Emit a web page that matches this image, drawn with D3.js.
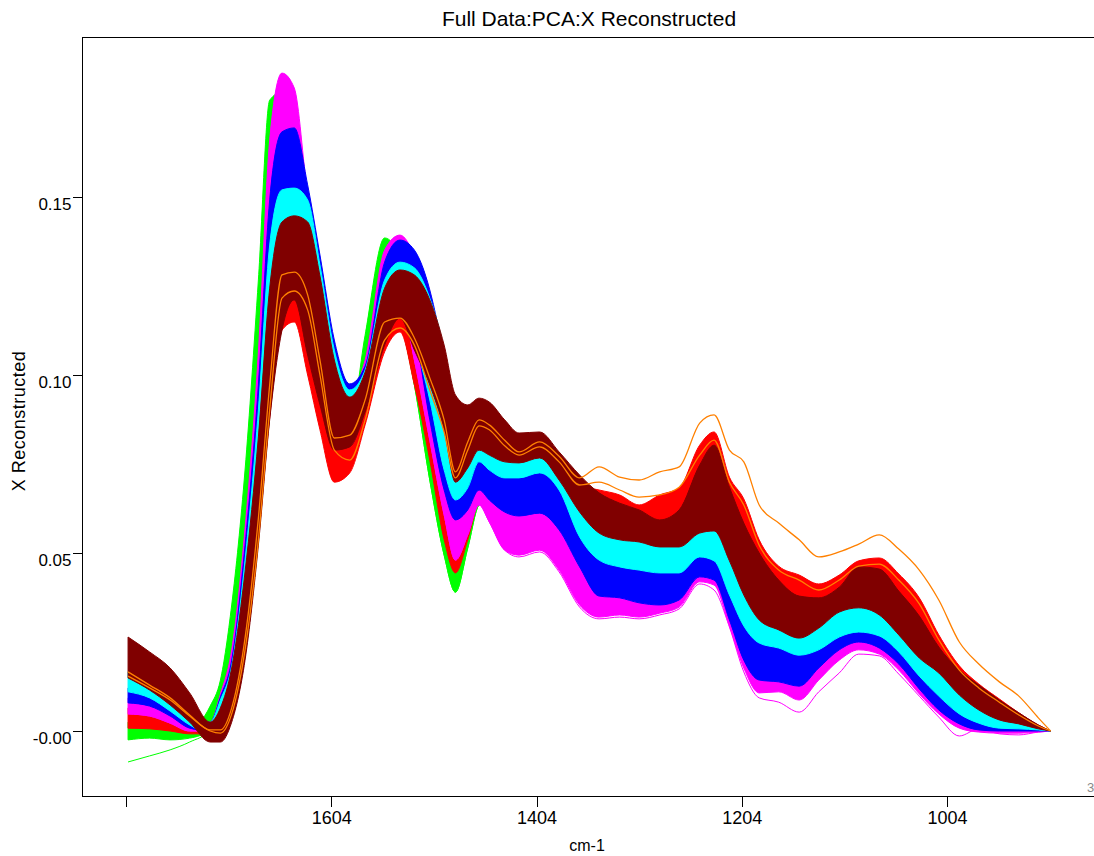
<!DOCTYPE html>
<html>
<head>
<meta charset="utf-8">
<script src="https://cdn.jsdelivr.net/npm/d3@7"></script>
<style>
  html, body { margin: 0; padding: 0; background: #fff; }
  svg { display: block; }
  text { font-family: "Liberation Sans", Arial, sans-serif; fill: #000; }
</style>
</head>
<body>
<svg id="chart" width="1094" height="856"></svg>
<script>
// Wavenumber grid (cm-1), high to low
const wavenumbers = [1802,1781,1761,1742,1722,1712,1701,1688,1675,1664,1652,1640,1627,1615,1601,1586,1571,1552,1537,1523,1508,1494,1483,1471,1460,1450,1435,1421,1401,1382,1362,1343,1323,1304,1284,1265,1245,1231,1216,1202,1187,1168,1148,1129,1109,1090,1070,1051,1031,1012,992,973,953,934,915,903];

// Upper / lower envelopes of each sample class
const maroonHi = [0.0264,0.0222,0.0177,0.0107,0.0025,0.0065,0.0177,0.0447,0.0826,0.1244,0.1430,0.1447,0.1430,0.1278,0.1042,0.0938,0.1008,0.1244,0.1295,0.1281,0.1211,0.1084,0.0944,0.0916,0.0935,0.0924,0.0874,0.0837,0.0840,0.0784,0.0719,0.0669,0.0640,0.0621,0.0593,0.0621,0.0747,0.0803,0.0685,0.0584,0.0500,0.0424,0.0379,0.0374,0.0404,0.0461,0.0455,0.0393,0.0323,0.0236,0.0171,0.0129,0.0087,0.0051,0.0017,0];
const maroonLo = [0.0149,0.0115,0.0073,0.0025,-0.0031,-0.0031,0.0025,0.0199,0.0522,0.0874,0.1126,0.1211,0.1056,0.0916,0.0789,0.0798,0.0896,0.1084,0.1160,0.1070,0.0972,0.0846,0.0699,0.0739,0.0789,0.0775,0.0756,0.0753,0.0767,0.0705,0.0615,0.0556,0.0537,0.0531,0.0517,0.0517,0.0556,0.0562,0.0478,0.0382,0.0312,0.0284,0.0261,0.0289,0.0334,0.0346,0.0326,0.0270,0.0205,0.0163,0.0101,0.0059,0.0031,0.0020,0.0006,0];
const cyanHi = [0.0166,0.0138,0.0098,0.0053,0.0025,0.0087,0.0183,0.0480,0.0902,0.1365,0.1520,0.1525,0.1492,0.1309,0.1070,0.0958,0.1014,0.1267,0.1317,0.1301,0.1216,0.1070,0.0874,0.0846,0.0817,0.0803,0.0784,0.0775,0.0784,0.0728,0.0649,0.0579,0.0565,0.0551,0.0537,0.0537,0.0593,0.0607,0.0537,0.0452,0.0368,0.0340,0.0312,0.0346,0.0382,0.0410,0.0396,0.0340,0.0270,0.0199,0.0129,0.0093,0.0053,0.0031,0.0011,0];
const cyanLo = [0.0110,0.0093,0.0056,0.0017,-0.0006,0.0025,0.0087,0.0362,0.0756,0.1126,0.1295,0.1317,0.1211,0.1042,0.0874,0.0817,0.0916,0.1154,0.1211,0.1098,0.0930,0.0733,0.0649,0.0683,0.0756,0.0733,0.0711,0.0711,0.0725,0.0677,0.0545,0.0480,0.0461,0.0452,0.0444,0.0444,0.0489,0.0478,0.0382,0.0295,0.0247,0.0233,0.0213,0.0228,0.0264,0.0278,0.0267,0.0222,0.0154,0.0098,0.0048,0.0022,0.0008,0.0006,0.0003,0];
const blueHi = [0.0121,0.0104,0.0070,0.0037,0.0025,0.0096,0.0199,0.0522,0.0972,0.1492,0.1683,0.1694,0.1534,0.1337,0.1098,0.0975,0.1025,0.1317,0.1379,0.1351,0.1239,0.1042,0.0817,0.0789,0.0775,0.0761,0.0733,0.0728,0.0739,0.0688,0.0579,0.0494,0.0480,0.0475,0.0466,0.0466,0.0508,0.0508,0.0424,0.0340,0.0270,0.0256,0.0242,0.0270,0.0326,0.0354,0.0340,0.0284,0.0213,0.0143,0.0087,0.0053,0.0025,0.0014,0.0006,0];
const blueLo = [0.0079,0.0070,0.0042,0.0008,0,0.0037,0.0110,0.0390,0.0812,0.1239,0.1464,0.1478,0.1351,0.1126,0.0902,0.0831,0.0930,0.1211,0.1239,0.1126,0.0874,0.0677,0.0593,0.0621,0.0677,0.0649,0.0615,0.0604,0.0612,0.0565,0.0461,0.0379,0.0374,0.0360,0.0354,0.0368,0.0433,0.0424,0.0312,0.0199,0.0143,0.0138,0.0126,0.0177,0.0228,0.0250,0.0233,0.0188,0.0118,0.0059,0.0020,0.0003,0,0,0,0];
const magentaHi = [0.0093,0.0081,0.0053,0.0028,0.0025,0.0104,0.0228,0.0570,0.1065,0.1660,0.1848,0.1806,0.1506,0.1309,0.1065,0.0949,0.1042,0.1351,0.1393,0.1337,0.1211,0.0986,0.0733,0.0733,0.0719,0.0677,0.0649,0.0621,0.0635,0.0579,0.0480,0.0396,0.0396,0.0382,0.0374,0.0390,0.0452,0.0452,0.0340,0.0228,0.0171,0.0171,0.0157,0.0199,0.0256,0.0284,0.0270,0.0228,0.0157,0.0087,0.0045,0.0025,0.0011,0.0006,0.0003,0];
const magentaLo = [0.0048,0.0042,0.0022,0,0,0.0042,0.0126,0.0424,0.0874,0.1407,0.1632,0.1562,0.1239,0.1014,0.0817,0.0803,0.0924,0.1211,0.1211,0.1042,0.0817,0.0607,0.0480,0.0551,0.0635,0.0587,0.0508,0.0494,0.0508,0.0452,0.0354,0.0320,0.0326,0.0320,0.0331,0.0348,0.0419,0.0410,0.0295,0.0177,0.0107,0.0110,0.0087,0.0143,0.0199,0.0228,0.0216,0.0171,0.0104,0.0048,0.0008,-0.0003,-0.0006,-0.0006,-0.0003,0];
const magentaLowest = [0.0048,0.0042,0.0022,0,0,0.0042,0.0126,0.0424,0.0874,0.1407,0.1632,0.1562,0.1239,0.1014,0.0817,0.0803,0.0924,0.1211,0.1211,0.1042,0.0817,0.0607,0.0480,0.0551,0.0635,0.0587,0.0508,0.0489,0.0503,0.0447,0.0348,0.0315,0.0320,0.0315,0.0326,0.0343,0.0413,0.0396,0.0292,0.0166,0.0093,0.0081,0.0053,0.0110,0.0163,0.0216,0.0211,0.0160,0.0098,0.0039,-0.0014,0.0006,-0.0008,-0.0011,-0.0003,0];
const redHi = [0.0065,0.0053,0.0037,0.0020,0.0020,0.0076,0.0143,0.0368,0.0733,0.1126,0.1351,0.1337,0.1211,0.0972,0.0817,0.0803,0.0963,0.1183,0.1197,0.1084,0.0846,0.0705,0.0593,0.0649,0.0733,0.0775,0.0803,0.0803,0.0812,0.0756,0.0691,0.0677,0.0663,0.0635,0.0663,0.0683,0.0803,0.0840,0.0713,0.0652,0.0537,0.0463,0.0438,0.0413,0.0438,0.0478,0.0486,0.0441,0.0374,0.0270,0.0183,0.0132,0.0090,0.0051,0.0017,0];
const redLo = [0.0008,0.0006,0,-0.0008,-0.0008,0.0003,0.0037,0.0213,0.0537,0.0879,0.1126,0.1149,0.1000,0.0846,0.0699,0.0725,0.0860,0.1065,0.1121,0.0972,0.0761,0.0537,0.0444,0.0537,0.0649,0.0677,0.0699,0.0705,0.0716,0.0671,0.0593,0.0565,0.0551,0.0537,0.0537,0.0565,0.0635,0.0677,0.0593,0.0537,0.0438,0.0382,0.0354,0.0334,0.0374,0.0410,0.0396,0.0354,0.0284,0.0199,0.0129,0.0087,0.0053,0.0031,0.0008,0];
const greenHi = [0.0025,0.0020,0.0014,0.0008,0.0070,0.0143,0.0354,0.0733,0.1267,0.1772,0.1795,0.1604,0.1295,0.1042,0.0846,0.0860,0.1112,0.1385,0.1329,0.1126,0.0817,0.0649,0.0537,0.0607,0.0705,0.0733,0.0733,0.0733,0.0747,0.0705,0.0649,0.0621,0.0607,0.0593,0.0593,0.0607,0.0733,0.0789,0.0663,0.0565,0.0480,0.0410,0.0368,0.0362,0.0396,0.0438,0.0438,0.0382,0.0312,0.0228,0.0166,0.0121,0.0081,0.0048,0.0014,0];
const greenLo = [-0.0025,-0.0020,-0.0025,-0.0020,0.0003,0.0065,0.0177,0.0480,0.0986,0.1492,0.1674,0.1351,0.1028,0.0874,0.0739,0.0761,0.0958,0.1239,0.1154,0.0972,0.0705,0.0494,0.0390,0.0514,0.0635,0.0649,0.0621,0.0621,0.0635,0.0593,0.0537,0.0508,0.0494,0.0494,0.0494,0.0508,0.0565,0.0579,0.0494,0.0396,0.0326,0.0312,0.0298,0.0326,0.0368,0.0382,0.0368,0.0312,0.0242,0.0171,0.0110,0.0073,0.0042,0.0025,0.0008,0];
const greenLowest = [-0.0087,-0.0070,-0.0053,-0.0031,0.0003,0.0065,0.0177,0.0480,0.0986,0.1492,0.1674,0.1351,0.1028,0.0874,0.0739,0.0761,0.0958,0.1239,0.1154,0.0972,0.0705,0.0494,0.0390,0.0514,0.0635,0.0649,0.0621,0.0621,0.0635,0.0593,0.0537,0.0508,0.0494,0.0494,0.0494,0.0508,0.0565,0.0579,0.0494,0.0396,0.0326,0.0312,0.0298,0.0326,0.0368,0.0382,0.0368,0.0312,0.0242,0.0171,0.0110,0.0073,0.0042,0.0025,0.0008,0];

// Two individual orange spectra
const orangeA = [0.0166,0.0129,0.0093,0.0045,0.0003,0.0003,0.0065,0.0261,0.0598,0.0972,0.1281,0.1289,0.1225,0.1042,0.0823,0.0831,0.0930,0.1149,0.1160,0.1104,0.0992,0.0874,0.0728,0.0812,0.0874,0.0860,0.0817,0.0784,0.0812,0.0772,0.0711,0.0742,0.0713,0.0705,0.0728,0.0742,0.0865,0.0888,0.0789,0.0756,0.0635,0.0584,0.0537,0.0489,0.0503,0.0525,0.0551,0.0511,0.0452,0.0368,0.0250,0.0188,0.0138,0.0098,0.0037,0];
const orangeB = [0.0154,0.0121,0.0087,0.0042,0,-0.0006,0.0048,0.0228,0.0537,0.0902,0.1216,0.1236,0.1183,0.1000,0.0789,0.0761,0.0874,0.1098,0.1132,0.1084,0.0958,0.0840,0.0711,0.0789,0.0857,0.0846,0.0801,0.0775,0.0798,0.0756,0.0691,0.0699,0.0677,0.0657,0.0663,0.0685,0.0775,0.0817,0.0699,0.0635,0.0522,0.0452,0.0424,0.0396,0.0424,0.0463,0.0469,0.0424,0.0357,0.0256,0.0171,0.0121,0.0081,0.0045,0.0014,0];

// Axis ticks
const xTicks = [1804, 1604, 1404, 1204, 1004];
const xTickLabels = ["", "1604", "1404", "1204", "1004"];
const yTicks = [0.15, 0.10, 0.05, 0.00];
const yTickLabels = ["0.15", "0.10", "0.05", "-0.00"];

const titleText = "Full Data:PCA:X Reconstructed";
const xAxisTitle = "cm-1";
const yAxisTitle = "X Reconstructed";

// Bands drawn bottom to top
const bands = [
  { hi: greenHi,   lo: greenLo,   color: "#00ff00" },
  { hi: redHi,     lo: redLo,     color: "#ff0000" },
  { hi: magentaHi, lo: magentaLo, color: "#ff00ff" },
  { hi: blueHi,    lo: blueLo,    color: "#0000ff" },
  { hi: cyanHi,    lo: cyanLo,    color: "#00ffff" },
  { hi: maroonHi,  lo: maroonLo,  color: "#800000" }
];

const FONT = '"Liberation Sans", Arial, sans-serif';
const svg = d3.select("#chart");
const W = 1094, H = 856;
const plot = { left: 82, top: 37, right: 1094, bottom: 796 };

const x = d3.scaleLinear().domain([1804, 1004]).range([126, 947]);
const y = d3.scaleLinear().domain([0, 0.15]).range([731, 197]);

svg.append("rect").attr("width", W).attr("height", H).attr("fill", "#fff");

svg.append("defs").append("clipPath").attr("id", "plotclip")
  .append("rect")
  .attr("x", plot.left + 1).attr("y", plot.top + 1)
  .attr("width", plot.right - plot.left).attr("height", plot.bottom - plot.top - 2);

const g = svg.append("g").attr("clip-path", "url(#plotclip)");

const area = (hi, lo) => d3.area()
  .x((d, i) => x(wavenumbers[i]))
  .y0((d, i) => y(lo[i]))
  .y1((d, i) => y(hi[i]))
  .curve(d3.curveMonotoneX)(wavenumbers);

const line = vals => d3.line()
  .x((d, i) => x(wavenumbers[i]))
  .y((d, i) => y(vals[i]))
  .curve(d3.curveMonotoneX)(wavenumbers);

function drawLine(vals, color, w) {
  g.append("path").attr("d", line(vals))
    .attr("fill", "none").attr("stroke", color).attr("stroke-width", w);
}

function drawBand(b) {
  g.append("path").attr("d", area(b.hi, b.lo))
    .attr("fill", b.color).attr("stroke", b.color).attr("stroke-width", 1);
}

drawLine(greenLowest, "#00ff00", 1);
drawBand(bands[0]);
drawBand(bands[1]);
drawBand(bands[2]);
drawLine(magentaLowest, "#ff00ff", 1);
drawBand(bands[3]);
drawBand(bands[4]);
drawBand(bands[5]);
drawLine(orangeB, "#ff8000", 1.3);
drawLine(orangeA, "#ff8000", 1.3);

// Frame
const frame = svg.append("g").attr("stroke", "#000").attr("shape-rendering", "crispEdges");
frame.append("line").attr("x1", plot.left + 0.5).attr("x2", plot.left + 0.5).attr("y1", plot.top).attr("y2", plot.bottom + 1);
frame.append("line").attr("x1", plot.left).attr("x2", plot.right).attr("y1", plot.top + 0.5).attr("y2", plot.top + 0.5);
frame.append("line").attr("x1", plot.left).attr("x2", plot.right).attr("y1", plot.bottom + 0.5).attr("y2", plot.bottom + 0.5);

// X axis
const xAxis = d3.axisBottom(x).tickValues(xTicks)
  .tickFormat((d, i) => xTickLabels[i]).tickSize(10).tickPadding(5);
const xg = svg.append("g").attr("transform", `translate(0,${plot.bottom + 0.5})`).call(xAxis);
xg.select(".domain").remove();
xg.selectAll("line").attr("stroke", "#000").attr("shape-rendering", "crispEdges");
xg.selectAll("text").attr("font-size", 18).attr("font-family", FONT).attr("fill", "#000");

// Y axis: labels hang just below their tick
const yAxis = d3.axisLeft(y).tickValues(yTicks)
  .tickFormat((d, i) => yTickLabels[i]).tickSize(10).tickPadding(1);
const yg = svg.append("g").attr("transform", `translate(${plot.left + 0.5},0)`).call(yAxis);
yg.select(".domain").remove();
yg.selectAll("line").attr("stroke", "#000").attr("shape-rendering", "crispEdges");
yg.selectAll("text").attr("font-size", 17).attr("font-family", FONT).attr("fill", "#000")
  .attr("dy", null).attr("y", 12.5);

// Titles
svg.append("text").attr("x", 589).attr("y", 26).attr("text-anchor", "middle")
  .attr("font-size", 21).text(titleText);
svg.append("text").attr("x", 587).attr("y", 851).attr("text-anchor", "middle")
  .attr("font-size", 16).text(xAxisTitle);
svg.append("text").attr("transform", "translate(25,421) rotate(-90)").attr("text-anchor", "middle")
  .attr("font-size", 18).attr("letter-spacing", 0.5).text(yAxisTitle);
svg.append("text").attr("x", 1087).attr("y", 792).attr("font-size", 13)
  .style("fill", "#888").text("3");
</script>
</body>
</html>
